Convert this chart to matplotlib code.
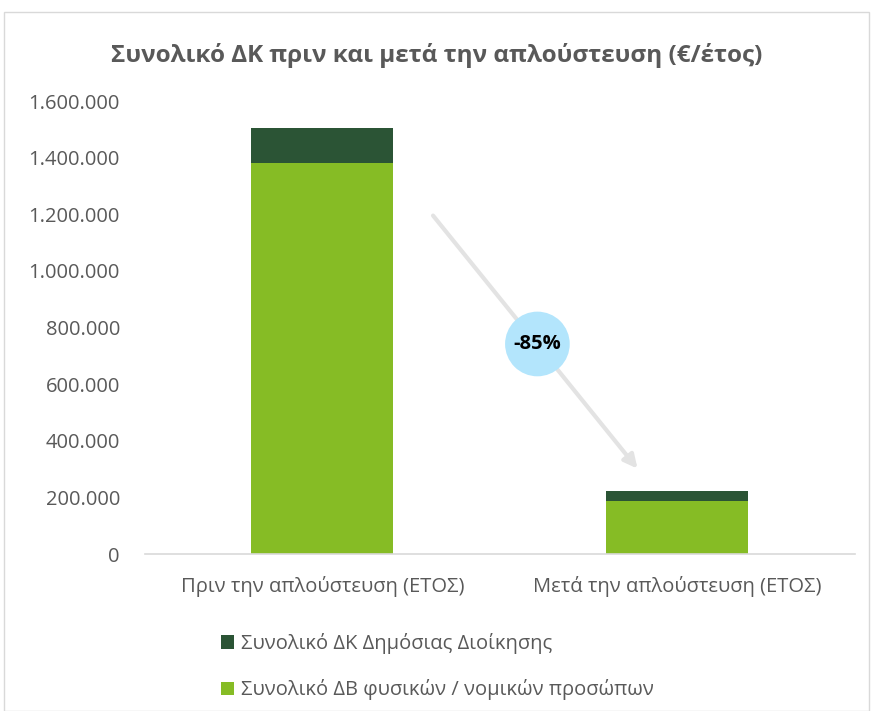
import matplotlib.pyplot as plt
from matplotlib.patches import Rectangle
from matplotlib.ticker import FuncFormatter

categories = ['Πριν την απλούστευση (ΕΤΟΣ)', 'Μετά την απλούστευση (ΕΤΟΣ)']
individuals = [1381000, 187000]   # Συνολικό ΔΒ φυσικών / νομικών προσώπων
public_admin = [123000, 37000]    # Συνολικό ΔΚ Δημόσιας Διοίκησης
change_label = '-85%'

light_green = '#86BC25'
dark_green = '#2B5435'
text_gray = '#595959'

plt.rcParams['font.family'] = ['Open Sans', 'DejaVu Sans']

fig = plt.figure(figsize=(8.73, 7.11), dpi=100)
ax = fig.add_axes([0.166, 0.2208, 0.813, 0.637])

x = list(range(len(categories)))
b1 = ax.bar(x, individuals, width=0.4, color=light_green, zorder=2)
b2 = ax.bar(x, public_admin, width=0.4, bottom=individuals, color=dark_green, zorder=2)

ax.set_xlim(-0.5, 1.5)
ax.set_ylim(0, 1600000)
ax.set_yticks(range(0, 1600001, 200000))
ax.yaxis.set_major_formatter(FuncFormatter(lambda v, p: f'{int(v):,}'.replace(',', '.')))
ax.set_xticks(x)
ax.set_xticklabels(categories)
ax.tick_params(axis='both', length=0, labelsize=14.5, colors=text_gray, labelcolor=text_gray)
ax.tick_params(axis='y', pad=18)
ax.tick_params(axis='x', pad=16)
for s in ['top', 'right', 'left']:
    ax.spines[s].set_visible(False)
ax.spines['bottom'].set_color('#D9D9D9')
ax.spines['bottom'].set_linewidth(1.2)

# arrow showing the change
tot0 = individuals[0] + public_admin[0]
tot1 = individuals[1] + public_admin[1]
ax.annotate('', xy=(0.893, tot1 + 70000), xytext=(0.307, tot0 * 0.8),
            arrowprops=dict(arrowstyle='-|>,head_length=0.8,head_width=0.4',
                            color='#E3E3E3', lw=3), zorder=3)
ax.text(0.606, 742000, change_label, ha='center', va='center', fontsize=14.5,
        fontweight='bold', color='black', zorder=5,
        bbox=dict(boxstyle='circle,pad=0.42', fc='#B3E5FC', ec='none'))

fig.suptitle('Συνολικό ΔΚ πριν και μετά την απλούστευση (€/έτος)', x=0.5, y=0.94,
             fontsize=17.5, fontweight='bold', color=text_gray)

leg = fig.legend([b2, b1], ['Συνολικό ΔΚ Δημόσιας Διοίκησης',
                            'Συνολικό ΔΒ φυσικών / νομικών προσώπων'],
                 loc='upper left', bbox_to_anchor=(0.232, 0.135), frameon=False,
                 fontsize=14.5, handlelength=0.65, handleheight=0.65,
                 handletextpad=0.35, labelspacing=1.25)
for t in leg.get_texts():
    t.set_color(text_gray)

fig.patches.append(Rectangle((0.005, 0.0), 0.99, 0.983, transform=fig.transFigure,
                             fill=False, ec='#D9D9D9', lw=1))

fig.savefig('out.png', dpi=100)
